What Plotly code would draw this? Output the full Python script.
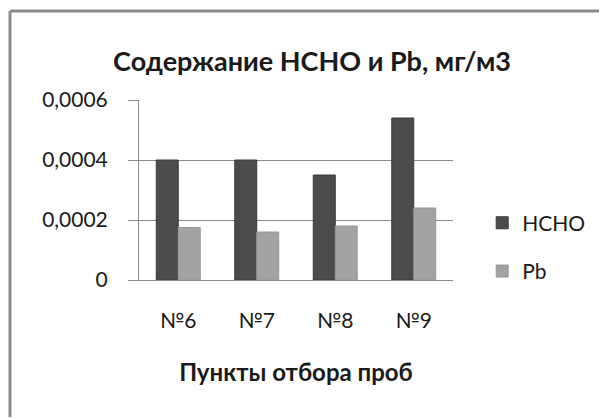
import plotly.graph_objects as go

# Sampling points and measured concentrations, mg/m3
points = ["№6", "№7", "№8", "№9"]
hcho = [0.0004, 0.0004, 0.00035, 0.00054]
pb = [0.000175, 0.00016, 0.00018, 0.00024]

y_ticks = [0, 0.0002, 0.0004, 0.0006]
y_tick_text = ["0", "0,0002", "0,0004", "0,0006"]

FONT = "Lato"
GRID = "#8a8a8a"

fig = go.Figure()
fig.add_trace(go.Bar(
    x=points, y=hcho, name="HCHO", legendgroup="a",
    marker=dict(color="#4b4b4b", line=dict(color="#3a3a3a", width=1)),
))
fig.add_trace(go.Bar(
    x=points, y=pb, name="Pb", legendgroup="b",
    marker=dict(color="#a3a3a3", line=dict(color="#969696", width=1)),
))

W, H = 600, 418
L, R, T, B = 139, 147, 100, 138
PW, PH = W - L - R, H - T - B

fig.update_layout(
    width=W, height=H,
    margin=dict(l=L, r=R, t=T, b=B, pad=0, autoexpand=False),
    paper_bgcolor="white", plot_bgcolor="white",
    barmode="group", bargap=0.44, bargroupgap=0,
    font=dict(family=FONT, color="#1a1a1a", size=21),
    title=dict(
        text="<b>Содержание НСНО и Pb, мг/м3</b>",
        x=312 / W, xanchor="center", xref="container",
        y=1 - 62 / H, yanchor="middle", yref="container",
        font=dict(family=FONT, size=27, color="#1a1a1a"),
    ),
    xaxis=dict(
        showline=True, linecolor=GRID, linewidth=1,
        showgrid=False, ticks="", ticklabelstandoff=22,
        tickfont=dict(size=21),
        title=dict(text="<b>Пункты отбора проб</b>", standoff=32,
                   font=dict(size=24)),
    ),
    yaxis=dict(
        range=[0, 0.0006], tickvals=y_ticks, ticktext=y_tick_text,
        showline=True, linecolor=GRID, linewidth=1,
        showgrid=True, gridcolor=GRID, gridwidth=1,
        ticks="outside", ticklen=10, tickcolor=GRID, tickwidth=1,
        ticklabelstandoff=16, zeroline=False,
        tickfont=dict(size=21),
    ),
    legend=dict(
        x=1.093, xanchor="left", y=0.43, yanchor="top",
        font=dict(size=21), tracegroupgap=18,
        itemwidth=30, bgcolor="rgba(0,0,0,0)",
    ),
    shapes=[
        dict(type="line", xref="paper", yref="paper",
             x0=(10 - L) / PW, x1=(W - 1 - L) / PW,
             y0=(H - B - 11) / PH, y1=(H - B - 11) / PH,
             line=dict(color="#8c8c8c", width=3)),
        dict(type="line", xref="paper", yref="paper",
             x0=(10 - L) / PW, x1=(10 - L) / PW,
             y0=(H - B - 11) / PH, y1=-(B - 1) / PH,
             line=dict(color="#8c8c8c", width=3)),
    ],
)

fig.write_html(
    "out.html",
    config={"displayModeBar": False},
    post_script="document.documentElement.style.overflow='hidden';"
                "document.body.style.overflow='hidden';",
)
